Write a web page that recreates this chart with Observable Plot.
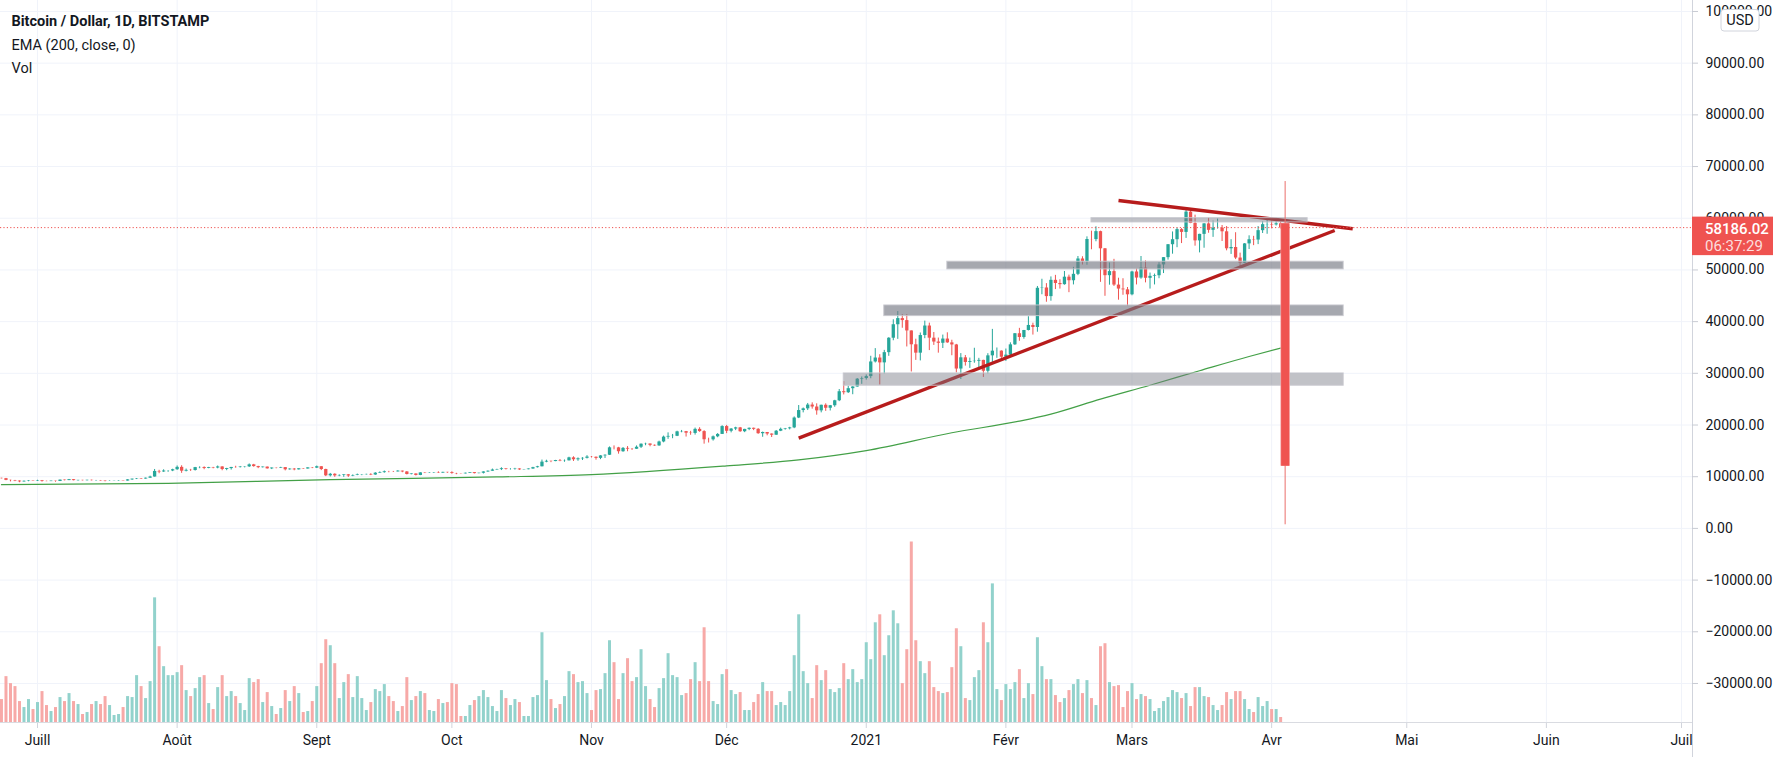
<!DOCTYPE html>
<html lang="fr">
<head>
<meta charset="utf-8">
<script src="https://cdn.jsdelivr.net/npm/d3@7"></script>
<script src="https://cdn.jsdelivr.net/npm/@observablehq/plot@0.6"></script>
<style>
html,body{margin:0;padding:0;background:#fff;}
#chart svg{display:block;}
</style>
</head>
<body>
<div id="chart"></div>
<script>
// ---------- DATA ----------
const firstDay = "2020-06-23";   // first daily candle
const lastDayExclusive = "2021-04-04";

const open = [
 9680,9620,9290,9250,9160,9000,9110,9190,
 9140,9230,9090,9060,9130,9080,9340,9250,9430,9240,9290,9240,9300,9240,9250,9190,9130,9150,9170,9210,9160,9390,9530,9610,9550,9710,9940,11020,10920,11100,11110,
 11350,11810,11070,11230,11200,11760,11780,11600,11760,11680,11890,11390,11570,11790,11770,11860,11910,12290,11960,11750,11860,11520,11680,11650,11760,11340,11470,11330,11540,11490,11710,
 11660,11930,11390,10170,10470,10160,10250,10370,10130,10230,10350,10390,10440,10330,10680,10790,10950,10940,10930,11080,10920,10420,10530,10240,10740,10690,10730,10770,10700,10840,
 10780,10620,10570,10550,10670,10790,10600,10670,10920,11060,11300,11380,11540,11430,11430,11500,11320,11360,11490,11750,11920,12820,12980,12930,13130,13040,13070,13650,13280,13460,13560,
 13800,13760,13550,14030,14150,15590,15580,14830,15480,15330,15310,15700,16290,16330,16070,15960,16720,17660,17800,17820,18680,18720,18420,18370,19160,18730,17150,17140,17720,18180,
 19700,18790,19220,19450,18700,19150,19370,19170,18320,18550,18250,18030,18800,19170,19270,19440,21350,22800,23130,23860,23480,22740,23820,23240,23730,24690,26440,26250,27030,27360,28870,
 28990,29370,32200,32960,32020,34000,36790,39400,40590,40200,38200,35520,33900,37310,39150,36800,36050,35810,36630,35890,35490,30830,33000,32100,32270,32330,32500,30400,33380,34290,34300,
 33110,33520,35510,37660,36930,38290,39260,38870,46450,46510,44840,47990,47380,47150,48600,47910,49150,52120,51610,55890,55870,57410,54090,48890,49680,47070,46300,46150,
 45190,49610,48430,50360,48380,48760,48880,50970,52380,54880,55850,57800,57260,61190,59000,55620,56880,58910,57660,58090,58090,57380,54090,54340,52300,51300,55040,55840,55780,57600,58760,
 58790,58710,58930
];
const high = [
 9700,9670,9330,9290,9190,9190,9230,9200,
 9310,9270,9130,9190,9140,9360,9360,9470,9450,9300,9300,9340,9340,9280,9270,9210,9190,9200,9230,9220,9430,9540,9640,9640,9740,10100,11400,11240,11340,11170,11450,
 12080,12120,11480,11420,11800,11920,11910,11810,11810,12070,11940,11620,11800,12020,11980,11930,12470,12390,12020,11890,11880,11690,11700,11820,11770,11540,11590,11560,11580,11720,11770,
 12060,11940,11450,10630,10570,10350,10400,10430,10350,10510,10390,10480,10570,10790,10930,11100,11040,11020,11170,11090,10990,10570,10550,10780,10770,10800,10800,10950,10860,10850,
 10950,10660,10600,10700,10800,10800,10690,10950,11120,11480,11440,11730,11550,11560,11620,11540,11400,11510,11820,12010,13220,13190,13020,13160,13330,13240,13770,13860,13640,13680,14070,
 13900,13820,14070,14240,15760,15960,15680,15650,15830,15460,15960,16340,16480,16330,16140,16880,17860,18480,18180,18800,18950,18760,18770,19410,19480,18900,17450,17880,18340,19860,
 19920,19310,19570,19530,19170,19420,19400,19300,18640,18560,18280,18940,19400,19340,19560,21560,23770,23290,24170,24290,24100,23840,24100,23780,24780,26870,28400,27500,27400,28990,29300,
 29680,33300,34780,33600,34440,36900,40360,41950,41350,41350,38200,36600,37800,40100,39710,37900,36820,37400,37840,36400,35600,33820,33450,32950,34850,32900,32530,33800,38500,34900,34350,
 34700,35900,37700,38700,38300,40950,39700,46800,48200,47350,48650,48950,48100,49700,49000,50500,52600,52550,56400,57500,58350,57500,54150,51350,52050,48400,48300,46600,
 49750,50200,52600,51750,49400,49200,51400,52400,54900,57350,58100,58000,61700,61700,60600,56900,58950,60000,59450,59850,58600,58400,55850,57200,53250,55100,56600,56500,58400,59350,59800,
 59500,60000,59750
];
const low = [
 9580,9220,9000,9040,8840,8940,9030,9080,
 9090,8950,9040,9050,8930,9060,9200,9240,9200,9130,9190,9160,9190,9120,9160,9010,9080,9120,9110,9130,9150,9280,9450,9460,9520,9680,9920,10580,10840,10850,10980,
 11230,10650,10930,11020,11090,11540,11350,11540,11530,11530,11150,11160,11280,11650,11690,11700,11780,11840,11560,11680,11470,11380,11530,11600,11130,11260,11150,11290,11430,11480,11560,
 11580,11180,10020,9950,9880,10000,9880,9860,10010,10200,10200,10310,10210,10260,10620,10680,10760,10820,10900,10770,10350,10360,10140,10200,10600,10650,10620,10630,10640,10660,
 10480,10390,10500,10530,10620,10540,10560,10530,10830,11050,11250,11190,11300,11280,11270,11220,11300,11340,11420,11680,11900,12700,12720,12900,12900,12790,13050,12950,12990,13130,13430,
 13620,13200,13300,13530,14100,15190,14360,14720,14830,15080,15280,15460,15990,15790,15870,15880,16560,17230,17350,17760,18500,17670,18020,18050,18590,16300,16520,16890,17540,18180,
 18330,18480,18920,18580,18520,18910,18910,18200,17630,17910,17580,18000,18720,19000,19060,19290,21240,22350,22800,23070,21900,22350,22640,22720,23430,24520,25820,26100,25860,27320,27870,
 28690,28950,32000,27730,29900,33290,36300,36570,38720,35100,30260,32500,32400,36700,34400,35400,33900,34800,35800,33400,30080,28800,31400,30950,31950,30850,29200,29900,31900,32900,32300,
 32300,33430,35400,36200,36600,38200,37400,37950,45200,43750,43950,46200,46300,47050,45600,47100,48900,50950,50900,53900,55450,47600,44900,47050,46800,44150,45100,43000,
 45000,47100,48200,47500,46300,47100,48300,49300,51900,53050,54300,55100,56100,58950,54600,53300,54200,57100,56300,57900,55500,53700,53000,52000,50400,51250,53950,54700,54900,57050,56900,
 57950,58500,57900
];
const close = [
 9620,9290,9250,9160,9000,9110,9190,9140,
 9230,9090,9060,9130,9080,9340,9250,9430,9240,9290,9240,9300,9240,9250,9190,9130,9150,9170,9210,9160,9390,9530,9610,9550,9710,9940,11020,10920,11100,11110,11350,
 11810,11070,11230,11200,11760,11780,11600,11760,11680,11890,11390,11570,11790,11770,11860,11910,12290,11960,11750,11860,11520,11680,11650,11760,11340,11470,11330,11540,11490,11710,11660,
 11930,11390,10170,10470,10160,10250,10370,10130,10230,10350,10390,10440,10330,10680,10790,10950,10940,10930,11080,10920,10420,10530,10240,10740,10690,10730,10770,10700,10840,10780,
 10620,10570,10550,10670,10790,10600,10670,10920,11060,11300,11380,11540,11430,11430,11500,11320,11360,11490,11750,11920,12820,12980,12930,13130,13040,13070,13650,13280,13460,13560,13800,
 13760,13550,14030,14150,15590,15580,14830,15480,15330,15310,15700,16290,16330,16070,15960,16720,17660,17800,17820,18680,18720,18420,18370,19160,18730,17150,17140,17720,18180,19700,
 18790,19220,19450,18700,19150,19370,19170,18320,18550,18250,18030,18800,19170,19270,19440,21350,22800,23130,23860,23480,22740,23820,23240,23730,24690,26440,26250,27030,27360,28870,28990,
 29370,32200,32960,32020,34000,36790,39400,40590,40200,38200,35520,33900,37310,39150,36800,36050,35810,36630,35890,35490,30830,33000,32100,32270,32330,32500,30400,33380,34290,34300,33110,
 33520,35510,37660,36930,38290,39260,38870,46450,46510,44840,47990,47380,47150,48600,47910,49150,52120,51610,55890,55870,57410,54090,48890,49680,47070,46300,46150,45190,
 49610,48430,50360,48380,48760,48880,50970,52380,54880,55850,57800,57260,61190,59000,55620,56880,58910,57660,58090,58090,57380,54090,54340,52300,51300,55040,55840,55780,57600,58760,58790,
 58710,58930,58186.02
];
// relative daily volume
const volume = [
 23,46,39,36,21,15,23,13,
 20,31,17,11,15,25,21,29,21,18,8,10,18,21,18,26,17,7,8,15,26,25,47,36,24,41,125,76,56,47,47,
 50,57,32,26,34,45,47,19,13,35,47,26,31,26,19,12,44,40,43,20,30,16,8,14,32,21,36,29,10,11,21,
 36,59,83,77,59,24,40,48,25,46,24,12,20,33,31,38,26,21,11,16,45,22,26,31,29,12,11,23,19,20,
 39,38,6,6,17,22,26,32,25,16,11,32,24,17,23,20,6,6,25,27,90,42,23,14,18,26,51,48,40,41,29,
 12,32,33,49,82,60,23,49,64,41,45,73,36,23,15,34,44,69,47,45,27,29,43,60,41,95,41,21,18,48,
 53,32,28,30,12,12,20,28,40,31,31,17,20,17,31,67,108,51,39,24,57,42,52,33,30,34,59,43,53,40,43,
 80,63,100,108,67,87,112,99,39,73,181,82,61,49,61,35,31,29,30,55,94,76,24,22,45,52,100,80,139,33,22,
 38,33,40,53,24,39,28,85,56,43,43,27,20,24,32,38,43,29,42,24,17,76,79,40,36,37,15,31,
 39,23,28,26,23,11,14,21,25,32,30,24,29,16,35,35,26,25,17,12,17,30,23,31,31,23,13,10,25,16,21,
 13,13,5
];

// EMA (200, close, 0)
const emaDates  = ["2020-06-23","2020-07-30","2020-09-04","2020-10-11","2020-11-01","2020-12-01","2020-12-17","2021-01-01","2021-01-20","2021-02-04","2021-02-11","2021-02-22","2021-03-05","2021-03-16","2021-03-27","2021-04-03"];
const emaValues = [8450,8700,9450,9950,10400,12100,13250,15050,18500,20750,22100,25000,27700,30500,33250,34870];

// drawn objects
const zoneStart = ["2021-02-20","2021-01-19","2021-01-05","2020-12-27"];
const zoneEnd   = ["2021-04-09","2021-04-17","2021-04-17","2021-04-17"];
const zoneLow   = [59190,50100,41070,27600];
const zoneHigh  = [60020,51590,43130,29980];
const zoneTone  = ["light","dark","dark","light"];

const trendStartDate  = ["2021-02-26","2020-12-17"];
const trendStartPrice = [63440,17450];
const trendEndDate    = ["2021-04-19","2021-04-15"];
const trendEndPrice   = [57960,57630];

const bigCandle = [{date:"2021-04-04", open:58950, high:67100, low:700, close:12000}];

const lastPrice = 58186.02;
const countdown = "06:37:29";

const monthTickDates  = ["2020-07-01","2020-08-01","2020-09-01","2020-10-01","2020-11-01","2020-12-01","2021-01-01","2021-02-01","2021-03-01","2021-04-01","2021-05-01","2021-06-01","2021-07-01"];
const monthTickLabels = ["Juill","Août","Sept","Oct","Nov","Déc","2021","Févr","Mars","Avr","Mai","Juin","Juil"];
const priceTicks = [100000,90000,80000,70000,60000,50000,40000,30000,20000,10000,0,-10000,-20000,-30000];

const titleLines = ["Bitcoin / Dollar, 1D, BITSTAMP","EMA (200, close, 0)","Vol"];

// ---------- LAYOUT ----------
const W = 1787, H = 757, mR = 95, mB = 35;
const plotW = W - mR, plotH = H - mB;
const dayMs = 864e5;
const xDomain = [new Date(Date.UTC(2020,6,1) - 8.215*dayMs), new Date(Date.UTC(2021,6,1) + 2.442*dayMs)];
const yDomain = [-37549, 102124];
const pxToPrice = p => yDomain[1] - p / plotH * (yDomain[1] - yDomain[0]);
const pxToDate = p => new Date(+xDomain[0] + p / plotW * (xDomain[1] - xDomain[0]));

const UP = "#26a69a", DOWN = "#ef5350";
const UPV = "#92d2cc", DOWNV = "#f7a9a7";
const FONT = "Roboto, 'Noto Sans', sans-serif";

const dates = d3.utcDay.range(new Date(firstDay), new Date(lastDayExclusive));
const candles = dates.map((d, i) => ({date: d, open: open[i], high: high[i], low: low[i], close: close[i], volume: volume[i]}));
const vMax = d3.max(volume);
const volTop = v => yDomain[0] + v / vMax * 0.25 * (yDomain[1] - yDomain[0]);
const ema = emaDates.map((d, i) => ({date: new Date(d), value: emaValues[i]}));
const zones = zoneStart.map((d, i) => ({start: new Date(d), end: new Date(zoneEnd[i]), low: zoneLow[i], high: zoneHigh[i], tone: zoneTone[i]}));
const trends = trendStartDate.map((d, i) => ({x1: new Date(d), y1: trendStartPrice[i], x2: new Date(trendEndDate[i]), y2: trendEndPrice[i]}));
const big = bigCandle.map(d => ({...d, date: new Date(d.date)}));
const months = monthTickDates.map((d, i) => ({date: new Date(d), label: monthTickLabels[i]}));
const fmt = d => (d < 0 ? "\u2212" : "") + Math.abs(d).toFixed(2);
const col = d => d.close >= d.open ? UP : DOWN;

const plot = Plot.plot({
  width: W, height: H,
  marginLeft: 0, marginRight: mR, marginTop: 0, marginBottom: mB,
  x: {type: "utc", domain: xDomain, axis: null},
  y: {domain: yDomain, axis: null},
  style: {fontFamily: FONT, background: "#fff", overflow: "visible"},
  marks: [
    Plot.ruleY(priceTicks, {stroke: "#f0f3fa"}),
    Plot.ruleX(months, {x: "date", stroke: "#f0f3fa"}),
    Plot.ruleX(months, {x: "date", y1: () => yDomain[0], y2: () => pxToPrice(728), stroke: "#d1d4dc"}),
    // volume
    Plot.ruleX(candles, {x: "date", y1: () => yDomain[0], y2: d => volTop(d.volume), stroke: d => d.close >= d.open ? UPV : DOWNV, strokeWidth: 3}),
    // EMA
    Plot.line(ema, {x: "date", y: "value", stroke: "#43a047", strokeWidth: 1.2, curve: "monotone-x"}),
    // candles
    Plot.ruleX(candles, {x: "date", y1: "low", y2: "high", stroke: col, strokeWidth: 1}),
    Plot.ruleX(candles, {x: "date", y1: "open", y2: "close", stroke: col, strokeWidth: 3.3}),
    // trend lines
    Plot.link(trends, {x1: "x1", y1: "y1", x2: "x2", y2: "y2", stroke: "#b71c1c", strokeWidth: 3.4}),
    // zones
    Plot.rect(zones, {x1: "start", x2: "end", y1: "low", y2: "high",
      fill: d => d.tone === "dark" ? "rgba(120,123,134,0.66)" : "rgba(120,123,134,0.46)",
      stroke: "rgba(200,200,206,0.9)", strokeWidth: 1}),
    // big drawn candle
    Plot.ruleX(big, {x: "date", y1: "low", y2: "high", stroke: "#ea6f6c", strokeWidth: 1}),
    Plot.ruleX(big, {x: "date", y1: "open", y2: "close", stroke: "#f6a3a2", strokeWidth: 9.5}),
    Plot.ruleX(big, {x: "date", y1: "open", y2: "close", stroke: "#ef5350", strokeWidth: 8}),
    // last price dotted line
    Plot.ruleY([lastPrice], {stroke: "#ef5350", strokeWidth: 1, strokeDasharray: "1.2,2.2"}),
    // axis lines
    Plot.ruleY([yDomain[0]], {stroke: "#d9dbe1"}),
    Plot.ruleX([xDomain[1]], {y1: () => yDomain[1], y2: () => pxToPrice(H), stroke: "#d1d4dc"}),
    // right axis ticks + labels
    Plot.ruleY(priceTicks, {x1: () => xDomain[1], x2: () => pxToDate(plotW + 6), stroke: "#c8cbd3"}),
    Plot.text(priceTicks, {x: () => xDomain[1], y: d => d, text: fmt, dx: 13, textAnchor: "start", fontSize: 14, fill: "#131722", fontFamily: FONT}),
    // bottom labels
    Plot.text(months, {x: "date", y: () => yDomain[0], text: "label", dy: 18, fontSize: 14, fill: "#131722", fontFamily: FONT,
      fontWeight: d => d.label === "2021" ? "bold" : "normal"}),
    // titles
    Plot.text([titleLines[0]], {frameAnchor: "top-left", dx: 11, dy: 21, textAnchor: "start", lineAnchor: "middle", fontSize: 14.5, fontWeight: "bold", fill: "#131722", fontFamily: FONT}),
    Plot.text([titleLines[1]], {frameAnchor: "top-left", dx: 11, dy: 44.5, textAnchor: "start", lineAnchor: "middle", fontSize: 14.5, fill: "#131722", fontFamily: FONT}),
    Plot.text([titleLines[2]], {frameAnchor: "top-left", dx: 11, dy: 67.5, textAnchor: "start", lineAnchor: "middle", fontSize: 14.5, fill: "#131722", fontFamily: FONT})
  ]
});

document.getElementById("chart").appendChild(plot);

// price label + USD badge on the right scale
const svg = d3.select(plot);
const yS = plot.scale("y");
const yp = yS.apply(lastPrice);
svg.append("rect").attr("x", plotW).attr("y", yp - 10.5).attr("width", 81).attr("height", 38.5).attr("fill", "#ef5350");
svg.append("text").attr("x", plotW + 13).attr("y", yp + 6.5).attr("fill", "#fff").attr("text-anchor", "start")
  .attr("font-family", FONT).attr("font-size", 15).attr("font-weight", 500).text(lastPrice.toFixed(2));
svg.append("text").attr("x", plotW + 13).attr("y", yp + 23.5).attr("fill", "rgba(255,255,255,0.82)").attr("text-anchor", "start")
  .attr("font-family", FONT).attr("font-size", 15).text(countdown);
svg.append("rect").attr("x", 1721).attr("y", 9.5).attr("width", 38).attr("height", 21.5).attr("rx", 3)
  .attr("fill", "#fff").attr("stroke", "#d1d4dc");
svg.append("text").attr("x", 1740).attr("y", 25).attr("text-anchor", "middle").attr("fill", "#131722")
  .attr("font-family", FONT).attr("font-size", 14.5).text("USD");
</script>
</body>
</html>
